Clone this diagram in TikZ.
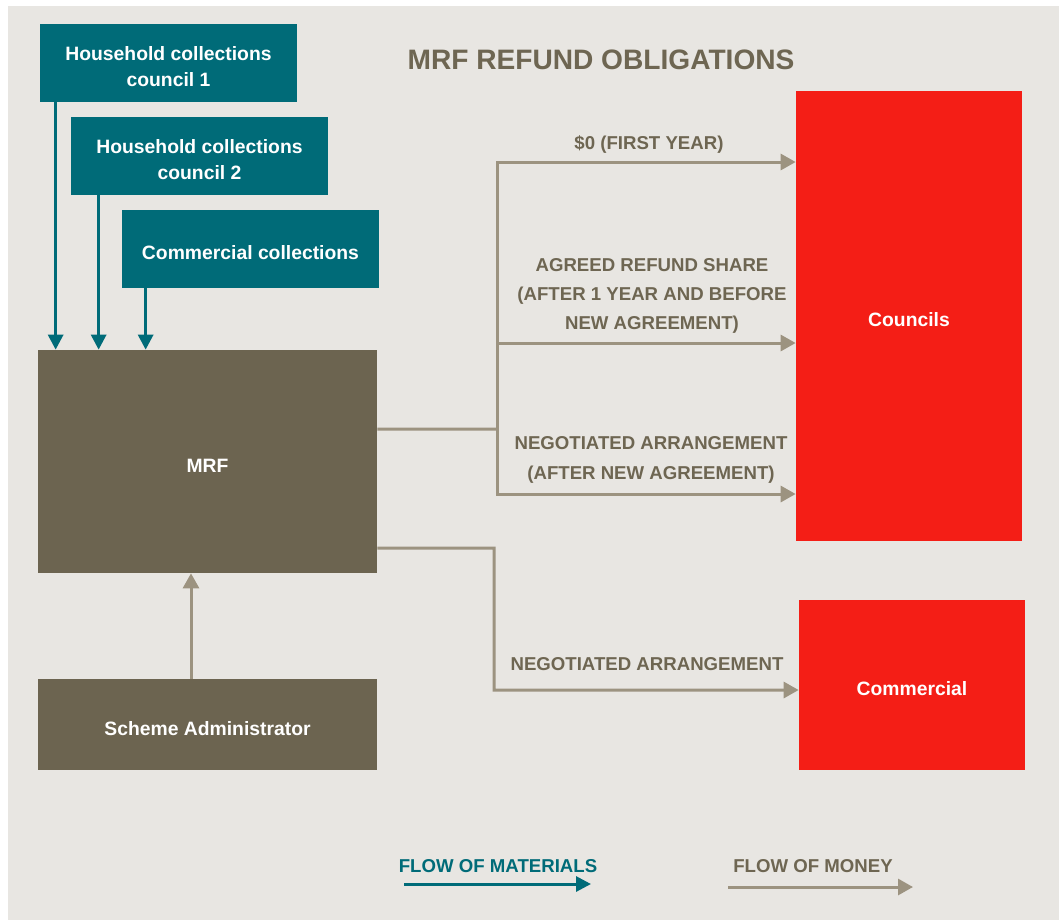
\documentclass[tikz,border=0pt]{standalone}
\usepackage{fontspec}
\setmainfont{Liberation Sans}
\usetikzlibrary{arrows.meta,positioning}
\definecolor{paper}{HTML}{E8E6E2}
\definecolor{petrol}{HTML}{006B78}
\definecolor{mud}{HTML}{6C6450}
\definecolor{ink}{HTML}{6E6652}
\definecolor{cash}{HTML}{9C9380}
\definecolor{signal}{HTML}{F41E16}
\begin{document}
\begin{tikzpicture}
[x=0.2mm,y=-0.2mm,node distance=18.6mm,on grid,
every node/.style={font=\bfseries},
box text/.style={text=white,align=center,font=\bfseries\fontsize{11}{14.8}\selectfont,
  execute at begin node={\rule{0pt}{12.6pt}}},
two lines/.style={execute at begin node={\rule{0pt}{27.4pt}}},
source box/.style={box text,fill=petrol,minimum width=51.4mm,minimum height=15.6mm},
mrf box/.style={box text,fill=mud,minimum width=67.8mm},
red box/.style={box text,fill=signal,minimum width=45.2mm},
flow label/.style={text=ink,align=center,font=\bfseries\fontsize{10.6}{16.5}\selectfont},
material/.style={petrol,line width=0.6mm,-{Triangle[length=3mm,width=3mm]}},
money/.style={cash,line width=0.6mm,-{Triangle[length=3mm,width=3.2mm]}}]
% page
\useasboundingbox (0,0) rectangle (1059,920);
\fill[white] (0,0) rectangle (1059,920);
\fill[paper] (8,6) rectangle (1059,920);
\node[text=ink,font=\bfseries\fontsize{16}{19}\selectfont] (title) at (601,60) {MRF REFUND OBLIGATIONS};
% collections
\node[source box,two lines] (hh1) at (168.5,63) {Household collections\\council 1};
\node[source box,two lines] (hh2) [below right=18.6mm and 6.2mm of hh1] {Household collections\\council 2};
\node[source box] (cc) [below right=18.6mm and 10.2mm of hh2] {Commercial collections};
% MRF and administrator
\node[mrf box,minimum height=44.6mm] (mrf) at (207.5,461.5) {MRF};
\node[mrf box,minimum height=18.2mm] (sa) [below=52.6mm of mrf] {Scheme Administrator};
% receivers
\node[red box,minimum height=90mm] (councils) at (909,316) {Councils};
\node[red box,minimum height=34mm] (commercial) [below=73.8mm of councils,xshift=0.6mm] {Commercial};
% flow of materials
\draw[material] ([xshift=3.2mm]hh1.south west) -- ([xshift=3.2mm]hh1.south west |- mrf.north);
\draw[material] ([xshift=5.6mm]hh2.south west) -- ([xshift=5.6mm]hh2.south west |- mrf.north);
\draw[material] ([xshift=4.8mm]cc.south west) -- ([xshift=4.8mm]cc.south west |- mrf.north);
% flow of money
\coordinate (split) at (497,429);
\draw[cash,line width=0.6mm] ([yshift=6.5mm]mrf.east) -- (split);
\draw[money] (split) |- ([yshift=30.8mm]councils.west);
\draw[money] (split) |- ([yshift=-5.4mm]councils.west);
\draw[money] (split) |- ([yshift=-35.6mm]councils.west);
\coordinate (turn) at (494,548);
\draw[money] ([yshift=-17.3mm]mrf.east) -- (turn) |- ([yshift=-1mm]commercial.west);
\draw[money] ([xshift=-3.3mm]sa.north) -- ([xshift=-3.3mm]mrf.south);
% labels
\node[flow label] (first) at (649,145) {\$0 (FIRST YEAR)};
\node[flow label] (share) at (652,296) {AGREED REFUND SHARE\\(AFTER 1 YEAR AND BEFORE\\NEW AGREEMENT)};
\node[flow label,font=\bfseries\fontsize{10.6}{17}\selectfont] (nego) at (651,460) {NEGOTIATED ARRANGEMENT\\(AFTER NEW AGREEMENT)};
\node[flow label] (nego2) at (647,664) {NEGOTIATED ARRANGEMENT};
% legend
\node[text=petrol,font=\bfseries\fontsize{10.6}{12}\selectfont] (keymat) at (498,866) {FLOW OF MATERIALS};
\node[text=ink,font=\bfseries\fontsize{10.6}{12}\selectfont] (keymoney) at (813,866) {FLOW OF MONEY};
\coordinate (km1) at (404,884);
\coordinate (km2) at (591,884);
\coordinate (kc1) at (728,887);
\coordinate (kc2) at (913,887);
\draw[material] (km1) -- (km2);
\draw[money] (kc1) -- (kc2);
\end{tikzpicture}
\end{document}
